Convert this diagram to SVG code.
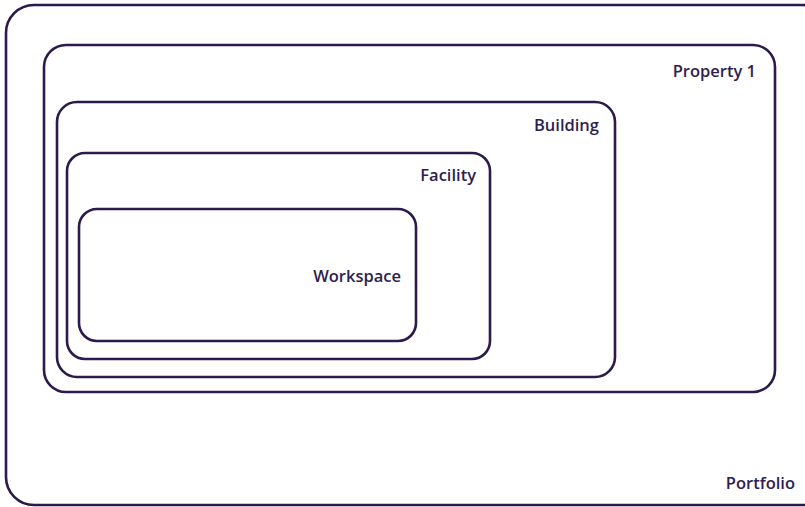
<svg xmlns="http://www.w3.org/2000/svg" width="805" height="507" viewBox="0 0 805 507">
<style>
.box{fill:none;stroke:#2b1a4c;stroke-width:2.6}
.lbl{font-family:"Open Sans",Lato,"Liberation Sans",sans-serif;font-size:16.5px;font-weight:600;fill:#2e1d50;text-anchor:end}
</style>
<rect width="805" height="507" fill="#ffffff"/>
<g id="portfolio">
<rect class="box" x="6" y="5" width="824" height="500" rx="28" ry="28"/>
<text class="lbl" x="795" y="489">Portfolio</text>
</g>
<g id="property1">
<rect class="box" x="44" y="45" width="731" height="347" rx="22" ry="22"/>
<text class="lbl" x="756" y="77">Property 1</text>
</g>
<g id="building">
<rect class="box" x="57" y="102" width="558" height="275" rx="20" ry="20"/>
<text class="lbl" x="599" y="131">Building</text>
</g>
<g id="facility">
<rect class="box" x="67" y="153" width="423" height="206" rx="18" ry="18"/>
<text class="lbl" x="476" y="181">Facility</text>
</g>
<g id="workspace">
<rect class="box" x="79" y="209" width="337" height="132" rx="18" ry="18"/>
<text class="lbl" x="401" y="282">Workspace</text>
</g>
<g id="connectors"></g>
</svg>
